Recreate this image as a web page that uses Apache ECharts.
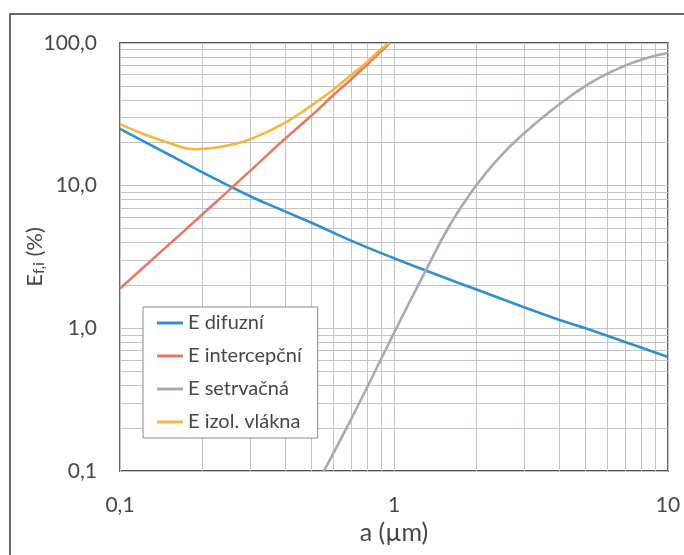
<!DOCTYPE html>
<html>
<head>
<meta charset="utf-8">
<script src="https://cdn.jsdelivr.net/npm/echarts@6/dist/echarts.min.js"></script>
<style>
  html, body { margin: 0; padding: 0; background: #fff; }
  #chart { width: 684px; height: 555px; }
</style>
</head>
<body>
<div id="chart"></div>
<script>
// values (a in µm, E in %)
const difuzniX = [0.1, 0.15, 0.2, 0.3, 0.4, 0.5, 0.7, 1, 1.5, 2, 3, 4, 5, 7, 10]
const difuzniY = [25, 16.6, 12.4, 8.4, 6.6, 5.5, 4.1, 3.1, 2.3, 1.87, 1.4, 1.15, 1.0, 0.8, 0.63]

const intercX = [0.1, 0.2, 0.3, 0.4, 0.5, 0.6, 0.7, 0.8, 0.9, 0.965]
const intercY = [1.9, 6.3, 12.8, 21.3, 31, 43, 56, 71, 88, 100]

const setrvX = [0.555, 0.69, 0.853, 1.05, 1.3, 1.6, 2.0, 2.44, 3.0, 3.7, 4.6, 5.65, 7.0, 8.25, 10]
const setrvY = [0.1, 0.222, 0.5, 1.12, 2.5, 5.3, 10.1, 16, 23.5, 33, 45, 57.5, 69.5, 78, 85]

const vlaknaX = [0.1, 0.12, 0.15, 0.19, 0.25, 0.3, 0.4, 0.5, 0.6, 0.7, 0.8, 0.9, 0.965]
const vlaknaY = [27, 23.3, 20, 18, 19.2, 21.2, 27.6, 36.5, 47, 60, 74, 91, 100]

// minor log grid lines
const xMinor = [0.2, 0.3, 0.4, 0.5, 0.6, 0.7, 0.8, 0.9, 2, 3, 4, 5, 6, 7, 8, 9]
const yMinor = [0.2, 0.3, 0.4, 0.5, 0.6, 0.7, 0.8, 0.9, 2, 3, 4, 5, 6, 7, 8, 9,
  20, 30, 40, 50, 60, 70, 80, 90]

const names = ['E difuzní', 'E intercepční', 'E setrvačná', 'E izol. vlákna']
const colors = ['#2f8fd6', '#e8795f', '#a9a9b4', '#f3b739']

const font = 'Lato, "Open Sans", sans-serif'
const textColor = '#474747'
const gridColor = '#c3c3cb'

const pairs = (xs, ys) => xs.map((x, i) => [x, ys[i]])

const lineSeries = (name, data, color) => ({
  name,
  type: 'line',
  data,
  smooth: 0.45,
  symbol: 'none',
  lineStyle: { width: 2.6, color },
  itemStyle: { color },
  z: 3
})

const chart = echarts.init(document.getElementById('chart'))

chart.setOption({
  animation: false,
  backgroundColor: '#fff',
  textStyle: { fontFamily: font },
  graphic: [{
    type: 'rect',
    shape: { x: 10, y: 14, width: 700, height: 570 },
    style: { fill: 'none', stroke: '#3a3a3a', lineWidth: 1.5 },
    silent: true,
    z: -1
  }],
  grid: {
    left: 120,
    right: 16,
    top: 43,
    bottom: 84,
    show: true,
    borderColor: '#555',
    borderWidth: 1.8
  },
  legend: {
    data: names,
    orient: 'vertical',
    left: 143,
    top: 307,
    z: 10,
    padding: [5, 16, 5, 14],
    itemGap: 11,
    itemWidth: 26,
    itemHeight: 3,
    icon: 'rect',
    backgroundColor: '#fff',
    borderColor: '#8a8a8a',
    borderWidth: 1,
    textStyle: { fontSize: 20, lineHeight: 22, color: textColor, fontFamily: font }
  },
  xAxis: {
    type: 'log',
    logBase: 10,
    min: 0.1,
    max: 10,
    name: 'a (µm)',
    nameLocation: 'middle',
    nameGap: 49,
    nameMoveOverlap: false,
    nameTextStyle: { fontSize: 25, color: textColor, fontFamily: font },
    axisLine: { show: false },
    axisTick: { show: false },
    axisLabel: {
      fontSize: 21,
      color: textColor,
      margin: 24,
      formatter: v => v < 0.5 ? '0,1' : String(Math.round(v))
    },
    splitLine: { show: true, lineStyle: { color: gridColor, width: 1 } }
  },
  yAxis: {
    type: 'log',
    logBase: 10,
    min: 0.1,
    max: 100,
    name: '{e|E}{s|f,i}{e| (%)}',
    nameLocation: 'middle',
    nameGap: 73,
    nameMoveOverlap: false,
    nameTextStyle: {
      color: textColor,
      fontFamily: font,
      rich: {
        e: { fontSize: 22, color: textColor, fontFamily: font },
        s: { fontSize: 15, color: textColor, fontFamily: font, verticalAlign: 'bottom', padding: [9, 0, 0, 0] }
      }
    },
    axisLine: { show: false },
    axisTick: { show: false },
    axisLabel: {
      fontSize: 21,
      color: textColor,
      margin: 23,
      formatter: v => (Math.round(v * 10) / 10).toFixed(1).replace('.', ',')
    },
    splitLine: { show: true, lineStyle: { color: gridColor, width: 1 } }
  },
  series: [
    {
      name: 'grid',
      type: 'line',
      data: [],
      silent: true,
      z: 1,
      markLine: {
        silent: true,
        z: 1,
        symbol: 'none',
        animation: false,
        label: { show: false },
        lineStyle: { color: gridColor, width: 1, type: 'solid' },
        data: xMinor.map(v => ({ xAxis: v })).concat(yMinor.map(v => ({ yAxis: v })))
      }
    },
    lineSeries(names[0], pairs(difuzniX, difuzniY), colors[0]),
    lineSeries(names[1], pairs(intercX, intercY), colors[1]),
    lineSeries(names[2], pairs(setrvX, setrvY), colors[2]),
    lineSeries(names[3], pairs(vlaknaX, vlaknaY), colors[3])
  ]
})
</script>
</body>
</html>
